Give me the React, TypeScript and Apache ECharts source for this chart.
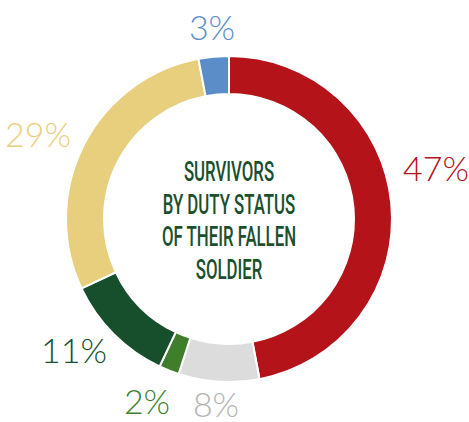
import React, { useEffect, useRef } from "react";
import * as echarts from "echarts";

const categories = ["Group A", "Group B", "Group C", "Group D", "Group E", "Group F"];
const values = [47, 8, 2, 11, 29, 3];
const sliceColors = ["#b31319", "#dcdcdc", "#3f7f2b", "#174f2d", "#e8cf7e", "#5b8ec8"];
const labelColors = ["#b31319", "#b4b4b4", "#3f7f2b", "#174f2d", "#e8cf7e", "#5b8ec8"];
const labelPositions: [number, number][] = [
  [436, 167],
  [216, 403],
  [147, 400],
  [74, 349],
  [38, 133],
  [212, 26],
];
const centerLines = ["SURVIVORS", "BY DUTY STATUS", "OF THEIR FALLEN", "SOLDIER"];

export default function App() {
  const ref = useRef<HTMLDivElement>(null);
  useEffect(() => {
    if (!ref.current) return;
    const chart = echarts.init(ref.current, null, { renderer: "svg" });
    chart.setOption({
      animation: false,
      backgroundColor: "#ffffff",
      graphic: [
        {
          type: "text",
          x: 229,
          y: 221,
          scaleX: 0.6,
          style: {
            text: centerLines.join("\n"),
            align: "center",
            verticalAlign: "middle",
            fontFamily: "Roboto",
            fontWeight: 500,
            fontSize: 28,
            lineHeight: 32.5,
            fill: "#1b4f2e",
          },
        },
      ],
      series: [
        {
          type: "pie",
          center: [229, 219],
          radius: [125, 163],
          startAngle: 90,
          clockwise: true,
          avoidLabelOverlap: false,
          itemStyle: { borderColor: "#ffffff", borderWidth: 2 },
          labelLine: { show: false },
          label: {
            show: true,
            position: "outside",
            formatter: "{c}%",
            fontFamily: "Lato",
            fontWeight: 300,
            fontSize: 34,
            lineHeight: 34,
          },
          labelLayout: (p: any) => ({
            x: labelPositions[p.dataIndex][0],
            y: labelPositions[p.dataIndex][1],
            align: "center",
            verticalAlign: "middle",
          }),
          data: categories.map((name, i) => ({
            name,
            value: values[i],
            itemStyle: { color: sliceColors[i] },
            label: { color: labelColors[i] },
          })),
        },
      ],
    });
    return () => chart.dispose();
  }, []);
  return (
    <div
      ref={ref}
      style={{ position: "fixed", left: 0, top: 0, width: 469, height: 422 }}
    />
  );
}
